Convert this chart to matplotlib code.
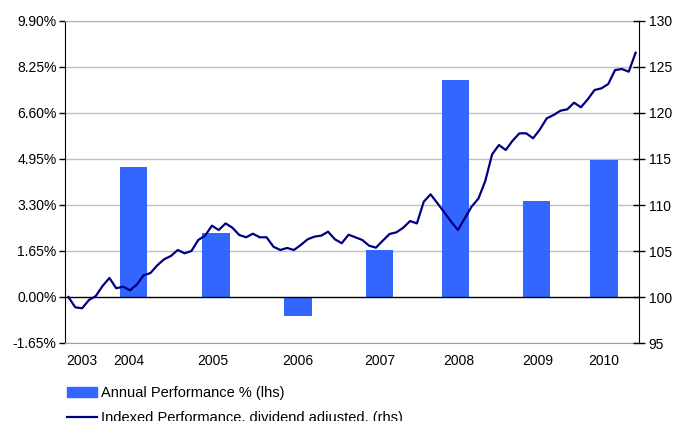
import matplotlib
matplotlib.use('Agg')
import matplotlib.pyplot as plt
from matplotlib.patches import Patch
from matplotlib.lines import Line2D

plt.rcParams['font.family'] = ['Liberation Sans', 'DejaVu Sans']
plt.rcParams['font.size'] = 10

# annual performance (lhs, %)
years = ['2004', '2005', '2006', '2007', '2008', '2009', '2010']
annual_perf = [4.66, 2.31, -0.67, 1.69, 7.78, 3.44, 4.91]
bar_pos = [9.5, 21.6, 33.6, 45.5, 56.6, 68.5, 78.4]   # month index of each bar

# indexed performance, monthly (rhs)
indexed = [100.0, 98.88, 98.77, 99.67, 100.1, 101.2, 102.07, 100.95, 101.12, 100.73,
           101.34, 102.36, 102.6, 103.44, 104.1, 104.46, 105.11, 104.75, 105.0, 106.2,
           106.67, 107.75, 107.28, 108.0, 107.53, 106.74, 106.49, 106.88, 106.49, 106.49,
           105.47, 105.11, 105.33, 105.11, 105.65, 106.27, 106.56, 106.67, 107.1, 106.27,
           105.85, 106.77, 106.49, 106.2, 105.58, 105.36, 106.12, 106.85, 107.03, 107.53,
           108.26, 108.0, 110.36, 111.16, 110.2, 109.2, 108.2, 107.28, 108.55, 109.82,
           110.7, 112.6, 115.5, 116.52, 115.98, 116.99, 117.79, 117.79, 117.25, 118.22,
           119.42, 119.78, 120.25, 120.4, 121.12, 120.62, 121.49, 122.5, 122.68, 123.15,
           124.67, 124.78, 124.49, 126.55]

tick_labels = ['2003', '2004', '2005', '2006', '2007', '2008', '2009', '2010']
tick_pos = [2.0, 8.8, 21.2, 33.5, 45.5, 57.2, 68.7, 78.4]

lhs_ticks = [-1.65, 0.0, 1.65, 3.30, 4.95, 6.60, 8.25, 9.90]
rhs_ticks = [95, 100, 105, 110, 115, 120, 125, 130]

fig = plt.figure(figsize=(6.74, 4.21), dpi=100)
ax = fig.add_axes([65/674, 1 - 343/421, 574/674, 322/421])

# gridlines
for t in lhs_ticks:
    if t == 0:
        continue
    ax.axhline(t, color='#c0c0c0', lw=1, zorder=0)

ax.bar(bar_pos, annual_perf, width=4.0, color='#3366ff', zorder=2)
ax.axhline(0, color='black', lw=1, zorder=3)

ax.set_xlim(-0.5, len(indexed) - 0.5)
ax.set_ylim(-1.65, 9.90)
ax.set_yticks(lhs_ticks)
ax.set_yticklabels(['%.2f%%' % t for t in lhs_ticks])
ax.set_xticks(tick_pos)
ax.set_xticklabels(tick_labels)
ax.tick_params(axis='x', length=0, pad=8)
ax.tick_params(axis='y', direction='out', length=4, width=1, pad=2)

ax.spines['top'].set_color('#b0b0b0')
ax.spines['bottom'].set_color('#a0a0a0')
ax.spines['right'].set_visible(False)

ax2 = ax.twinx()
ax2.plot(range(len(indexed)), indexed, color='#000080', lw=1.6, zorder=4)
ax2.set_ylim(95, 130)
ax2.set_yticks(rhs_ticks)
ax2.tick_params(axis='y', direction='inout', length=8, width=1, pad=3)
for s in ['top', 'bottom', 'left']:
    ax2.spines[s].set_visible(False)

handles = [Patch(color='#3366ff'), Line2D([], [], color='#000080', lw=1.6)]
labels = ['Annual Performance % (lhs)', 'Indexed Performance, dividend adjusted, (rhs)']
fig.legend(handles, labels, loc='upper left', bbox_to_anchor=(67/674, 1 - 386/421),
           frameon=False, borderpad=0, borderaxespad=0, handlelength=2.05,
           handletextpad=0.3, labelspacing=0.75, fontsize=10.5)

fig.savefig('out.png', dpi=100)
